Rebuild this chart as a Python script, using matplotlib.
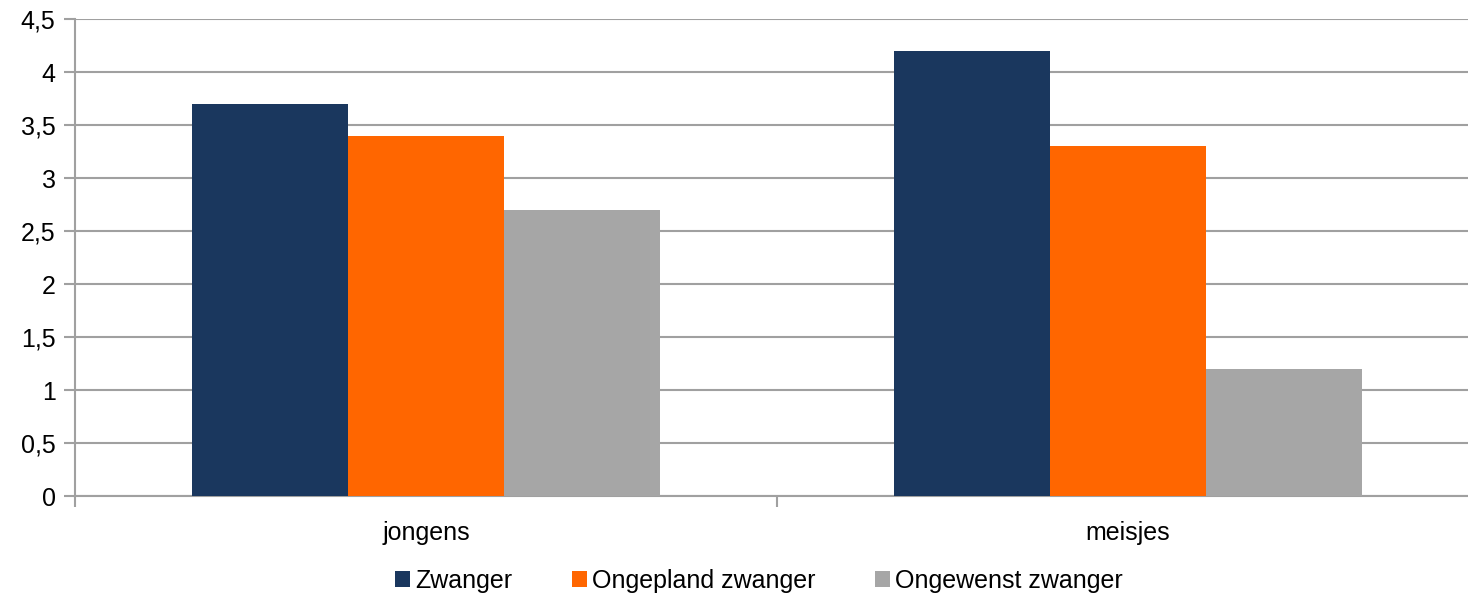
import matplotlib
matplotlib.use("Agg")
import matplotlib.pyplot as plt
import numpy as np
from matplotlib.ticker import FuncFormatter, FixedLocator

plt.rcParams['font.family'] = ['Liberation Sans', 'DejaVu Sans']

categories = ["jongens", "meisjes"]
series_names = ["Zwanger", "Ongepland zwanger", "Ongewenst zwanger"]
zwanger = [3.7, 4.2]
ongepland = [3.4, 3.3]
ongewenst = [2.7, 1.2]
colors = ["#1a375e", "#ff6600", "#a6a6a6"]
yticks = [0, 0.5, 1, 1.5, 2, 2.5, 3, 3.5, 4, 4.5]

FS = 18

fig = plt.figure(figsize=(14.68, 5.96), dpi=100)
ax = fig.add_axes([75/1468, 100/596, 1404/1468, 477/596])

x = np.arange(len(categories))
w = 0.222
for i, (vals, name, c) in enumerate(zip([zwanger, ongepland, ongewenst], series_names, colors)):
    ax.bar(x + (i - 1) * w, vals, width=w, color=c, label=name, zorder=3)

ax.set_xlim(-0.5, 1.5)
ax.set_ylim(0, 4.5)
ax.set_yticks(yticks)
ax.yaxis.set_major_formatter(FuncFormatter(lambda v, p: ('%g' % v).replace('.', ',')))
ax.grid(axis='y', color='#a0a0a0', linewidth=1.5, zorder=0)
ax.set_axisbelow(True)

for s in ['top', 'right']:
    ax.spines[s].set_visible(False)
ax.spines['left'].set_color('#a0a0a0')
ax.spines['left'].set_linewidth(1.5)
ax.spines['bottom'].set_color('#a0a0a0')
ax.spines['bottom'].set_linewidth(1.5)

ax.tick_params(axis='y', length=8, width=1.5, color='#a0a0a0', labelsize=FS, pad=6)
ax.set_xticks(x)
ax.set_xticklabels(categories)
ax.tick_params(axis='x', which='major', length=0, labelsize=FS, pad=18)
ax.xaxis.set_minor_locator(FixedLocator([-0.5, 0.5, 1.5]))
ax.tick_params(axis='x', which='minor', length=8, width=1.5, color='#a0a0a0')

leg = fig.legend(loc='center', bbox_to_anchor=(759/1468, 1 - 581/596), ncol=3, frameon=False,
                 fontsize=FS, handlelength=0.6, handleheight=0.6, handletextpad=0.2,
                 columnspacing=2.4)

fig.savefig("out.png", dpi=100)
